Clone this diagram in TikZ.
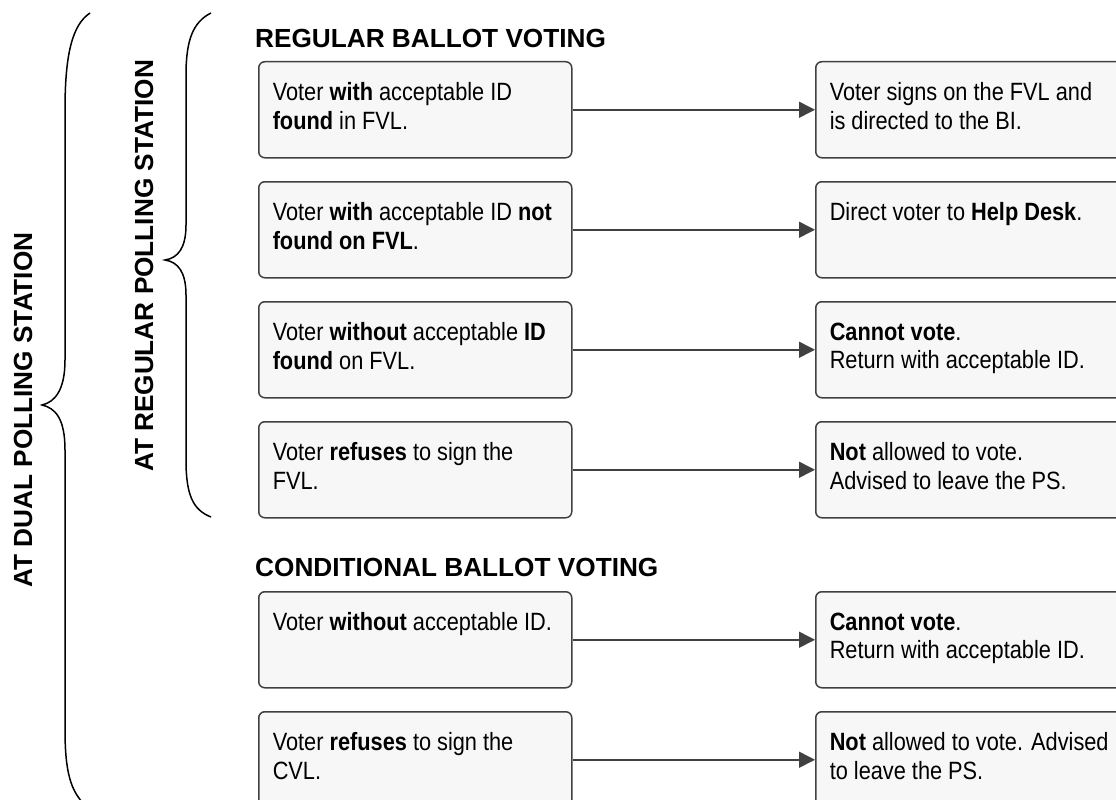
\documentclass[tikz,border=0pt]{standalone}
\usepackage{fontspec}
\setmainfont{Liberation Sans}
\newfontfamily\narrowfont[FakeStretch=0.87]{Liberation Sans}
\usetikzlibrary{arrows.meta}
\definecolor{edgegray}{HTML}{404040}
\definecolor{cardfill}{HTML}{F7F7F7}
\newcommand{\cardtext}[1]{\parbox[t][54pt][t]{285pt}{\raggedright #1}}
\begin{document}
\begin{tikzpicture}[x=1pt,y=-1pt,
  card/.style={draw=edgegray, line width=1.5pt, fill=cardfill, rounded corners=6pt,
    inner xsep=14pt, inner ysep=21pt, anchor=north west, align=left,
    font=\narrowfont\fontsize{25}{28.5}\selectfont},
  flow/.style={draw=edgegray, line width=1.5pt, -{Triangle[length=16pt,width=16pt]}},
  heading/.style={font=\bfseries\fontsize{26.2}{30}\selectfont, inner sep=0pt},
  bracepath/.style={draw=black, line width=1.5pt}]
\useasboundingbox (0,0) rectangle (1116,800);
\clip (0,0) rectangle (1116,800);

% braces
\draw[bracepath] (90,13) .. controls (72,25) and (65,55) .. (65,110)
  -- (65,360) .. controls (65,390) and (55,402) .. (42,405)
  .. controls (55,408) and (65,418) .. (65,450)
  -- (65,730) .. controls (65,775) and (72,790) .. (82,802);
\draw[bracepath] (211,13) .. controls (193,22) and (186,40) .. (186,75)
  -- (186,225) .. controls (186,248) and (178,258) .. (165,260)
  .. controls (178,262) and (186,272) .. (186,295)
  -- (186,460) .. controls (186,495) and (193,510) .. (211,517);

% vertical labels
\node[heading, rotate=90] (dual) at (23,410) {AT DUAL POLLING STATION};
\node[heading, rotate=90] (reg) at (144,266) {AT REGULAR POLLING STATION};

% headings
\node[heading, anchor=base west] (hreg) at (255,48) {REGULAR BALLOT VOTING};
\node[heading, anchor=base west] (hcond) at (255,576) {CONDITIONAL BALLOT VOTING};

% left cards
\node[card] (L1) at (258,61) {\cardtext{Voter \textbf{with} acceptable ID\\ \textbf{found} in FVL.}};
\node[card] (L2) at (258,181) {\cardtext{Voter \textbf{with} acceptable ID \textbf{not}\\ \textbf{found on FVL}.}};
\node[card] (L3) at (258,301) {\cardtext{Voter \textbf{without} acceptable \textbf{ID}\\ \textbf{found} on FVL.}};
\node[card] (L4) at (258,421) {\cardtext{Voter \textbf{refuses} to sign the\\ FVL.}};
\node[card] (L5) at (258,591) {\cardtext{Voter \textbf{without} acceptable ID.}};
\node[card] (L6) at (258,711) {\cardtext{Voter \textbf{refuses} to sign the\\ CVL.}};

% right cards
\node[card] (R1) at (815,61) {\cardtext{Voter signs on the FVL and\\ is directed to the BI.}};
\node[card] (R2) at (815,181) {\cardtext{Direct voter to \textbf{Help Desk}.}};
\node[card] (R3) at (815,301) {\cardtext{\textbf{Cannot vote}.\\ Return with acceptable ID.}};
\node[card] (R4) at (815,421) {\cardtext{\textbf{Not} allowed to vote.\\ Advised to leave the PS.}};
\node[card] (R5) at (815,591) {\cardtext{\textbf{Cannot vote}.\\ Return with acceptable ID.}};
\node[card] (R6) at (815,711) {\cardtext{\textbf{Not} allowed to vote. Advised\\ to leave the PS.}};

% connectors
\foreach \i in {1,...,6} {
  \draw[flow] (L\i.east) -- (R\i.west);
}
\end{tikzpicture}
\end{document}
